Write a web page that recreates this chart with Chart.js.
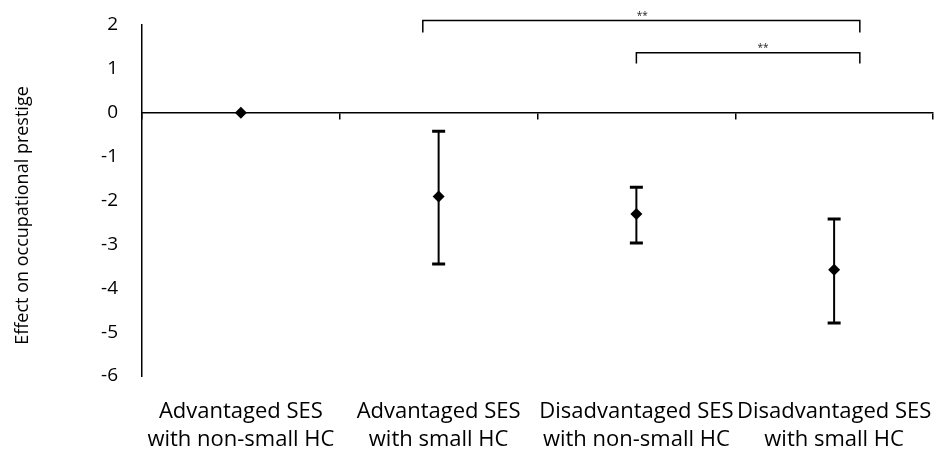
<!DOCTYPE html>
<html>
<head>
<meta charset="utf-8">
<script src="https://cdn.jsdelivr.net/npm/chart.js@4"></script>
<style>
  html, body { margin: 0; padding: 0; background: #fff; }
  #wrap { width: 939px; height: 452px; }
</style>
</head>
<body>
<div id="wrap"><canvas id="chart_1"></canvas></div>
<script>
var categories = [
    ["Advantaged SES", "with non-small HC"],
    ["Advantaged SES", "with small HC"],
    ["Disadvantaged SES", "with non-small HC"],
    ["Disadvantaged SES", "with small HC"]
];
var effect = [0, -1.91, -2.31, -3.58];
var upper = [0, -0.42, -1.70, -2.42];
var lower = [0, -3.45, -2.97, -4.79];
var yTitle = 'Effect on occupational prestige';

// significance brackets (x in category index units, y in axis units)
var bracketFrom = [0.92, 2.0];
var bracketTo = [3.13, 3.13];
var bracketTop = [2.1, 1.37];
var bracketFoot = [1.83, 1.12];
var starX = [2.03, 2.64];
var starY = [2.2, 1.48];
var starText = ["**", "**"];

var fontFamily = "'Open Sans', 'Noto Sans', sans-serif";

var extrasPlugin = {
    id: 'extras',
    afterDatasetsDraw: function (chart) {
        var ctx = chart.ctx;
        var xs = chart.scales.x;
        var ys = chart.scales.y;
        ctx.save();
        ctx.strokeStyle = '#000';
        // error bars
        for (var i = 0; i < effect.length; i++) {
            if (upper[i] === lower[i]) continue;
            var px = xs.getPixelForValue(i);
            var pt = ys.getPixelForValue(upper[i]);
            var pb = ys.getPixelForValue(lower[i]);
            ctx.lineWidth = 2;
            ctx.beginPath();
            ctx.moveTo(px, pt);
            ctx.lineTo(px, pb);
            ctx.stroke();
            ctx.lineWidth = 3;
            ctx.beginPath();
            ctx.moveTo(px - 6.5, pt);
            ctx.lineTo(px + 6.5, pt);
            ctx.moveTo(px - 6.5, pb);
            ctx.lineTo(px + 6.5, pb);
            ctx.stroke();
        }
        // brackets
        ctx.lineWidth = 1.5;
        for (var j = 0; j < bracketFrom.length; j++) {
            var x0 = xs.getPixelForValue(bracketFrom[j]);
            var x1 = xs.getPixelForValue(bracketTo[j]);
            var yt = ys.getPixelForValue(bracketTop[j]);
            var yf = ys.getPixelForValue(bracketFoot[j]);
            ctx.beginPath();
            ctx.moveTo(x0, yf);
            ctx.lineTo(x0, yt);
            ctx.lineTo(x1, yt);
            ctx.lineTo(x1, yf);
            ctx.stroke();
            ctx.fillStyle = '#222';
            ctx.font = "10px " + fontFamily;
            ctx.textAlign = 'center';
            ctx.textBaseline = 'middle';
            ctx.fillText(starText[j], xs.getPixelForValue(starX[j]), ys.getPixelForValue(starY[j]));
        }
        // y title, sits a bit below the axis middle like the original
        ctx.translate(23, (ys.top + ys.bottom) / 2 + 15);
        ctx.rotate(-Math.PI / 2);
        ctx.fillStyle = '#000';
        ctx.font = "18px " + fontFamily;
        ctx.textAlign = 'center';
        ctx.textBaseline = 'middle';
        ctx.fillText(yTitle, 0, 0);
        ctx.restore();
    }
};

var ctx1 = document.getElementById("chart_1").getContext("2d");
var chart1 = new Chart(ctx1, {
    type: 'line',
    data: {
        labels: categories,
        datasets: [
            {
                data: effect,
                showLine: false,
                pointStyle: 'rectRot',
                pointRadius: 6,
                pointBackgroundColor: '#000',
                pointBorderColor: '#000',
                pointBorderWidth: 0,
                clip: false
            }]
    },
    plugins: [extrasPlugin],
    options: {
        animation: false,
        responsive: true,
        maintainAspectRatio: false,
        layout: {
            padding: { top: 25, right: 1, left: 0, bottom: 0 }
        },
        plugins: {
            legend: { display: false },
            tooltip: { enabled: false }
        },
        scales: {
            x: {
                type: 'category',
                position: { y: 0 },
                offset: true,
                grid: {
                    offset: true,
                    drawOnChartArea: false,
                    drawTicks: true,
                    tickLength: 6,
                    color: '#000',
                    lineWidth: 1.5
                },
                border: { display: true, color: '#000', width: 1.5 },
                ticks: { display: false }
            },
            x2: {
                type: 'category',
                position: 'bottom',
                offset: true,
                grid: { display: false, drawTicks: false },
                border: { display: false },
                ticks: {
                    color: '#000',
                    padding: 21,
                    maxRotation: 0,
                    autoSkip: false,
                    font: { family: fontFamily, size: 22, lineHeight: 1.3 }
                },
                afterFit: function (scale) {
                    scale.height = 76;
                    scale.paddingLeft = 0;
                    scale.paddingRight = 0;
                }
            },
            y: {
                min: -6,
                max: 2,
                grid: { display: false, drawTicks: true, tickLength: 22 },
                border: { display: true, color: '#000', width: 1.5 },
                ticks: {
                    stepSize: 1,
                    color: '#000',
                    padding: 2,
                    font: { family: fontFamily, size: 19 }
                },
                afterFit: function (scale) { scale.width = 142; }
            }
        }
    }
});
</script>
</body>
</html>
